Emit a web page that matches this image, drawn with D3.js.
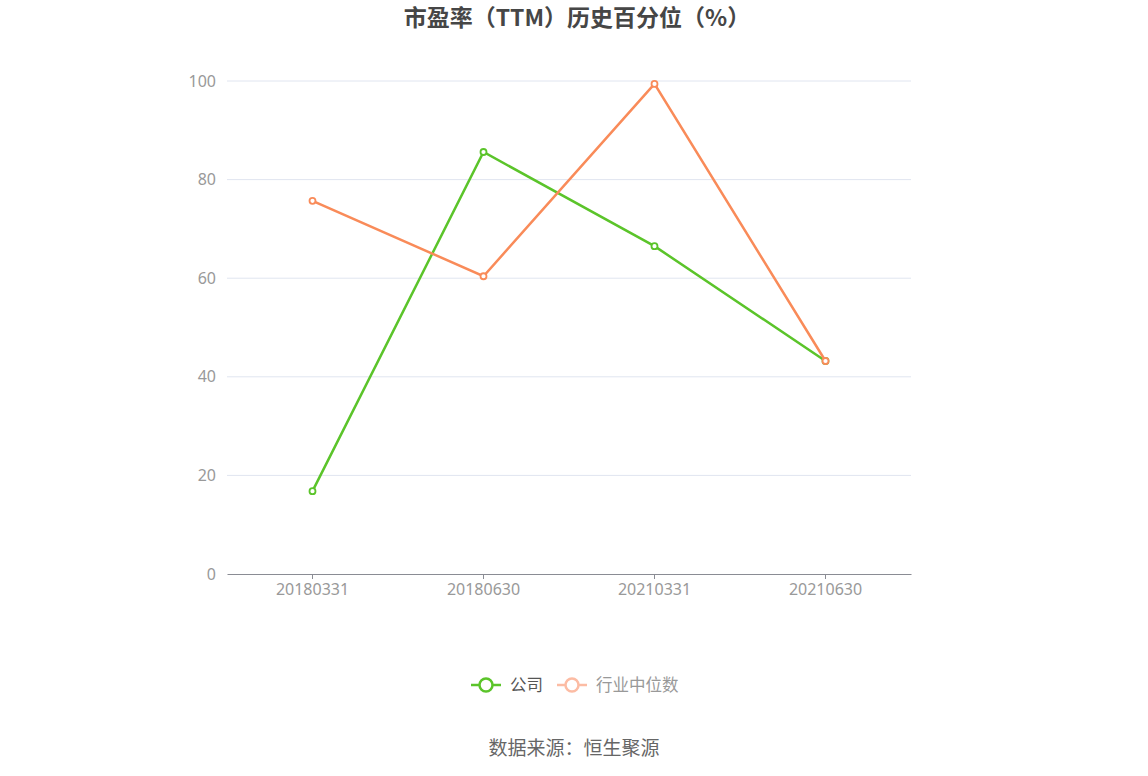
<!DOCTYPE html>
<html>
<head>
<meta charset="utf-8">
<script src="https://cdn.jsdelivr.net/npm/d3@7"></script>
<style>
  body { margin: 0; background: #fff; }
  svg { display: block; font-family: "Noto Sans CJK SC", "Noto Sans", sans-serif; }
</style>
</head>
<body>
<div id="chart"></div>
<script>
const periods = ['20180331', '20180630', '20210331', '20210630'];
const companyValues = [16.8, 85.6, 66.5, 43.2];
const industryValues = [75.7, 60.4, 99.4, 43.2];
const yTicks = [0, 20, 40, 60, 80, 100];

const width = 1148, height = 776;
const margin = { left: 227, right: 237, top: 81, bottom: 202 };

const svg = d3.select('#chart').append('svg')
    .attr('width', width)
    .attr('height', height);

const x = d3.scaleBand()
    .domain(periods)
    .range([margin.left, width - margin.right]);

const y = d3.scaleLinear()
    .domain([0, 100])
    .range([height - margin.bottom, margin.top]);

// Title
svg.append('text')
    .attr('x', width / 2 + 3)
    .attr('y', 26)
    .attr('text-anchor', 'middle')
    .attr('font-size', '23px')
    .attr('font-weight', 'bold')
    .attr('fill', '#464646')
    .text('市盈率（TTM）历史百分位（%）');

// Grid lines
svg.append('g')
    .selectAll('line')
    .data(yTicks.filter(d => d > 0))
    .join('line')
    .attr('x1', margin.left)
    .attr('x2', width - margin.right)
    .attr('y1', d => y(d))
    .attr('y2', d => y(d))
    .attr('stroke', '#e0e5f0')
    .attr('stroke-width', 1);

// Y labels
svg.append('g')
    .selectAll('text')
    .data(yTicks)
    .join('text')
    .attr('x', margin.left - 11)
    .attr('y', d => y(d))
    .attr('dy', '0.35em')
    .attr('text-anchor', 'end')
    .attr('font-size', '16px')
    .attr('fill', '#999')
    .attr('font-family', '"Noto Sans", sans-serif')
    .text(d => d);

// X axis
const xAxis = svg.append('g')
    .attr('transform', `translate(0,${y(0)})`)
    .call(d3.axisBottom(x).tickSizeInner(5).tickSizeOuter(0).tickPadding(5));
xAxis.select('.domain').attr('stroke', '#8a8c94').attr('stroke-width', 1.2);
xAxis.selectAll('.tick line').attr('stroke', '#8a8c94');
xAxis.selectAll('.tick text')
    .attr('font-size', '16px')
    .attr('fill', '#999')
    .attr('font-family', '"Noto Sans", sans-serif');

const cx = d => x(d) + x.bandwidth() / 2;

const series = [
    { name: '公司', values: companyValues, color: '#5bc42a', legendColor: '#5bc42a', textColor: '#555' },
    { name: '行业中位数', values: industryValues, color: '#f98b59', legendColor: '#fcbca4', textColor: '#999' }
];

const line = d3.line()
    .x((d, i) => cx(periods[i]))
    .y(d => y(d));

series.forEach(s => {
    svg.append('path')
        .datum(s.values)
        .attr('d', line)
        .attr('fill', 'none')
        .attr('stroke', s.color)
        .attr('stroke-width', 2.5);

    svg.append('g')
        .selectAll('circle')
        .data(s.values)
        .join('circle')
        .attr('cx', (d, i) => cx(periods[i]))
        .attr('cy', d => y(d))
        .attr('r', 3)
        .attr('fill', '#fff')
        .attr('stroke', s.color)
        .attr('stroke-width', 1.8);
});

// Legend
const legendItems = [
    { s: series[0], x: 471 },
    { s: series[1], x: 557 }
];
legendItems.forEach(({ s, x: lx }) => {
    const g = svg.append('g').attr('transform', `translate(${lx},685)`);
    g.append('line')
        .attr('x1', 0).attr('x2', 30)
        .attr('stroke', s.legendColor)
        .attr('stroke-width', 2.5);
    g.append('circle')
        .attr('cx', 15).attr('r', 6.5)
        .attr('fill', '#fff')
        .attr('stroke', s.legendColor)
        .attr('stroke-width', 2.5);
    g.append('text')
        .attr('x', 39)
        .attr('dy', '0.35em')
        .attr('font-size', '16.5px')
        .attr('fill', s.textColor)
        .text(s.name);
});

// Source
svg.append('text')
    .attr('x', width / 2)
    .attr('y', 748)
    .attr('dy', '0.35em')
    .attr('text-anchor', 'middle')
    .attr('font-size', '19px')
    .attr('fill', '#666')
    .text('数据来源：恒生聚源');
</script>
</body>
</html>
